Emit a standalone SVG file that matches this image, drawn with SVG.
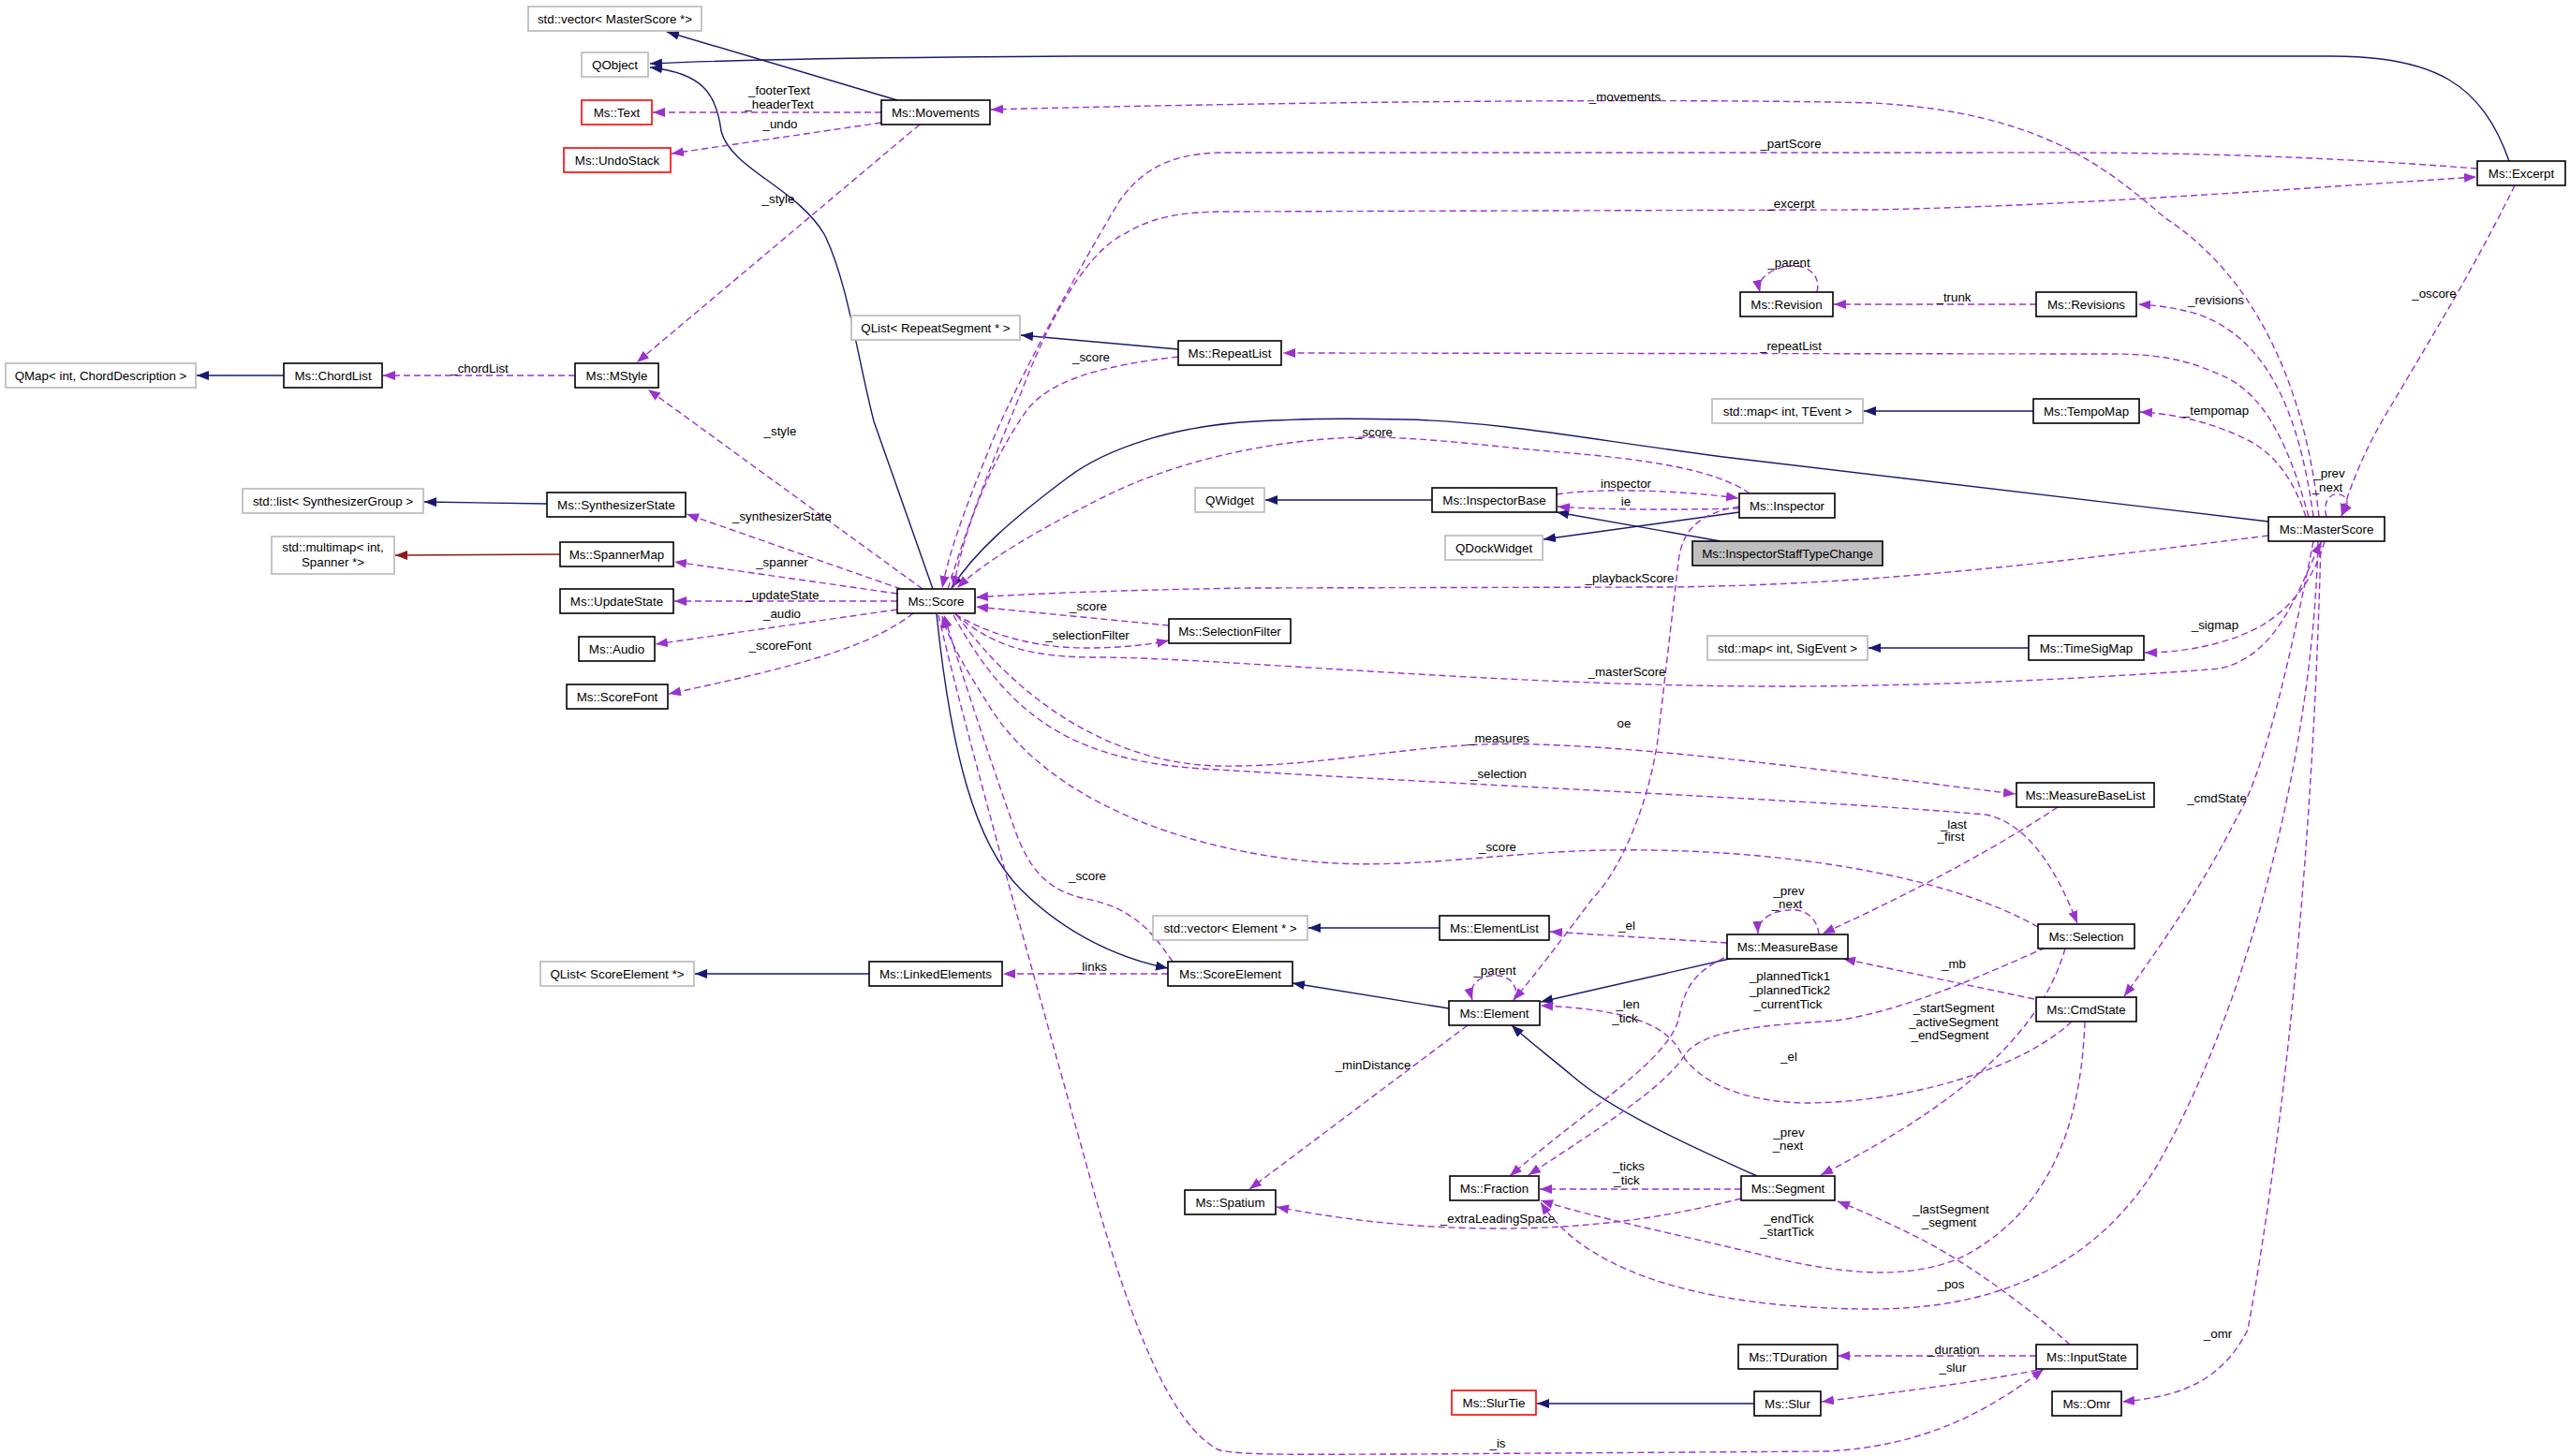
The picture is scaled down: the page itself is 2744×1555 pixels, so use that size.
<svg xmlns="http://www.w3.org/2000/svg" width="2744" height="1555" viewBox="0 0 2744 1555">
<style>
text{font-family:"Liberation Sans",Arial,Helvetica,sans-serif;font-size:13.33px;fill:#000}
.node text{text-anchor:middle}
.node rect{fill:#fff;stroke:#000;stroke-width:1.6}
.g rect{stroke:#bfbfbf;stroke-width:1.8}
.r rect{stroke:#ff0000;stroke-width:1.6}
.hl rect{fill:#bfbfbf}
.inh{fill:none;stroke:#191970;stroke-width:1.4;marker-end:url(#ab)}
.tpl{fill:none;stroke:#8b1a1a;stroke-width:1.4;marker-end:url(#ar)}
.use{fill:none;stroke:#9a32cd;stroke-width:1.4;stroke-dasharray:7,4;marker-end:url(#ap)}
.lbl text{text-anchor:middle}
</style>
<defs>
<marker id="ab" markerUnits="userSpaceOnUse" markerWidth="14" markerHeight="12" refX="13" refY="5" orient="auto"><path d="M0,0 L13,5 L0,10 z" fill="#191970"/></marker>
<marker id="ar" markerUnits="userSpaceOnUse" markerWidth="14" markerHeight="12" refX="13" refY="5" orient="auto"><path d="M0,0 L13,5 L0,10 z" fill="#8b1a1a"/></marker>
<marker id="ap" markerUnits="userSpaceOnUse" markerWidth="14" markerHeight="12" refX="13" refY="5" orient="auto"><path d="M0,0 L13,5 L0,10 z" fill="#9a32cd"/></marker>
</defs>
<rect width="2744" height="1555" fill="#fff"/>

<g id="edges">
<!-- inheritance -->
<path class="inh" d="M958,107 L712,34"/>
<path class="inh" d="M2679,172 C2650,90 2600,60 2490,60 L1150,60 C950,61 800,63 694,68"/>
<path class="inh" d="M996,629 L933,450 C915,380 905,300 880,250 C850,200 780,180 770,140 C765,100 750,78 694,72"/>
<path class="inh" d="M2422,557 L1840,488 C1700,470 1600,450 1500,448 C1420,446 1380,448 1340,450 C1250,455 1180,480 1140,510 C1080,555 1040,590 1016,628"/>
<path class="inh" d="M1000,656 C1015,800 1040,900 1090,950 C1140,1000 1200,1025 1247,1034"/>
<path class="inh" d="M1547,1077 L1380,1050"/>
<path class="inh" d="M1851,1023 L1645,1070"/>
<path class="inh" d="M1876,1256 C1800,1222 1720,1185 1680,1150 C1650,1125 1630,1110 1614,1095"/>
<path class="inh" d="M1537,991 L1397,991"/>
<path class="inh" d="M928,1040 L742,1040"/>
<path class="inh" d="M1258,373 L1090,358"/>
<path class="inh" d="M303,401 L210,401"/>
<path class="inh" d="M584,538 L453,536"/>
<path class="tpl" d="M598,592 L422,593"/>
<path class="inh" d="M2171,439 L1990,439"/>
<path class="inh" d="M2166,692 L1995,692"/>
<path class="inh" d="M1529,534 L1351,534"/>
<path class="inh" d="M1857,547 L1648,576"/>
<path class="inh" d="M1837,578 L1662,547"/>
<path class="inh" d="M1873,1499 L1641,1499"/>

<!-- usage -->
<path class="use" d="M941,120 L697,120"/>
<path class="use" d="M941,131 L717,164"/>
<path class="use" d="M982,133 L680,387"/>
<path class="use" d="M2476,552 C2460,400 2400,290 2312,233 C2250,180 2180,120 2000,110 C1800,105 1400,108 1058,117"/>
<path class="use" d="M2645,180 C2450,165 2300,162 2100,163 L1300,163 C1250,165 1220,180 1195,215 C1150,290 1090,400 1060,470 C1040,520 1015,580 1006,628"/>
<path class="use" d="M1012,629 C1040,540 1065,480 1090,420 C1120,340 1160,270 1200,250 C1230,232 1260,226 1310,226 L2000,224 C2200,220 2400,205 2644,189"/>
<path class="use" d="M2685,198 C2640,290 2590,370 2555,430 C2530,470 2512,510 2500,551"/>
<path class="use" d="M2470,552 C2455,440 2420,360 2345,335 C2320,328 2300,326 2283,325"/>
<path class="use" d="M2174,325 L1958,325"/>
<path class="use" d="M1940,312 C1945,290 1925,282 1910,284 C1895,286 1875,295 1879,312"/>
<path class="use" d="M2465,552 C2445,480 2420,420 2370,400 C2330,382 2300,378 2250,378 L1370,377"/>
<path class="use" d="M1258,381 C1180,390 1120,405 1095,440 C1060,490 1030,560 1018,628"/>
<path class="use" d="M2462,552 C2450,515 2430,485 2400,470 C2360,450 2320,442 2285,440"/>
<path class="use" d="M2484,552 C2478,530 2495,522 2505,532 C2508,538 2504,544 2500,551"/>
<path class="use" d="M614,401 L409,401"/>
<path class="use" d="M985,629 L692,416"/>
<path class="use" d="M962,629 L733,549"/>
<path class="use" d="M958,634 L720,600"/>
<path class="use" d="M958,642 L720,642"/>
<path class="use" d="M958,651 L700,688"/>
<path class="use" d="M975,655 C930,690 860,710 714,741"/>
<path class="use" d="M2422,572 C2200,600 2000,625 1778,627 L1334,628 C1200,630 1100,634 1042,638"/>
<path class="use" d="M1248,668 L1042,648"/>
<path class="use" d="M1020,656 C1060,680 1110,692 1160,692 C1200,692 1230,688 1248,684"/>
<path class="use" d="M2482,578 C2470,620 2445,650 2415,668 C2380,688 2330,697 2290,697"/>
<path class="use" d="M1020,656 C1060,690 1100,702 1170,702 C1300,702 1600,733 1900,733 C2100,733 2300,720 2370,714 C2430,700 2450,640 2478,579"/>
<path class="use" d="M1022,657 C1080,740 1180,815 1300,818 C1420,820 1520,790 1640,795 C1800,800 2000,830 2152,848"/>
<path class="use" d="M1018,657 C1080,770 1150,815 1300,822 C1600,840 1950,855 2120,870 C2170,880 2200,940 2218,986"/>
<path class="use" d="M2176,990 C2080,935 1900,905 1714,908 C1600,910 1500,930 1400,920 C1250,905 1120,850 1060,760 C1035,720 1015,690 1006,658"/>
<path class="use" d="M1252,1027 C1230,995 1210,970 1160,960 C1120,952 1100,930 1085,890 C1060,820 1030,730 1008,657"/>
<path class="use" d="M1247,1040 L1071,1040"/>
<path class="use" d="M1002,657 C1030,780 1120,1100 1170,1280 C1210,1420 1250,1520 1300,1548 C1320,1555 1400,1553 1500,1553 L1950,1550 C2050,1545 2120,1510 2182,1462"/>
<path class="use" d="M1844,1007 L1655,995"/>
<path class="use" d="M1942,998 C1940,975 1920,970 1909,972 C1895,973 1876,980 1877,997"/>
<path class="use" d="M2197,862 C2140,900 2050,950 1946,997"/>
<path class="use" d="M2172,1067 L1968,1024"/>
<path class="use" d="M1857,541 C1815,548 1796,565 1792,600 L1770,790 C1760,860 1730,930 1700,960 C1670,1000 1640,1040 1616,1068"/>
<path class="use" d="M1567,1095 L1334,1270"/>
<path class="use" d="M1616,1069 C1625,1048 1605,1040 1592,1042 C1575,1044 1568,1055 1572,1068"/>
<path class="use" d="M2184,1012 C2110,1045 2030,1080 1960,1090 C1880,1095 1820,1100 1800,1125 C1780,1160 1700,1210 1632,1255"/>
<path class="use" d="M1841,1023 C1805,1040 1798,1060 1793,1085 C1785,1130 1700,1180 1612,1256"/>
<path class="use" d="M2212,1091 C2160,1140 2040,1178 1926,1178 C1850,1176 1810,1150 1795,1125 C1780,1095 1740,1078 1645,1074"/>
<path class="use" d="M2205,1013 C2180,1100 2100,1175 1944,1255"/>
<path class="use" d="M2226,1091 C2222,1200 2190,1290 2100,1340 C2040,1370 1960,1360 1880,1340 C1790,1318 1700,1300 1645,1282"/>
<path class="use" d="M2475,578 C2470,800 2400,1080 2300,1250 C2230,1360 2120,1398 2000,1398 C1850,1398 1700,1370 1645,1284"/>
<path class="use" d="M2478,578 C2470,900 2440,1200 2400,1420 C2370,1480 2320,1492 2266,1497"/>
<path class="use" d="M2470,578 C2450,680 2420,820 2390,870 C2350,950 2300,1020 2268,1064"/>
<path class="use" d="M1859,1270 L1644,1270"/>
<path class="use" d="M1859,1280 C1780,1300 1700,1312 1600,1312 C1500,1312 1420,1300 1363,1289"/>
<path class="use" d="M2210,1436 C2170,1400 2110,1355 2058,1327 C2025,1310 1995,1296 1962,1283"/>
<path class="use" d="M2174,1448 L1962,1448"/>
<path class="use" d="M2186,1461 C2120,1475 2040,1485 1945,1497"/>
<path class="use" d="M1868,527 C1830,500 1750,490 1667,483 C1600,478 1520,466 1450,467 C1350,470 1250,495 1180,530 C1110,565 1050,600 1022,628"/>
<path class="use" d="M1662,528 C1700,522 1780,522 1856,532"/>
<path class="use" d="M1857,543 C1780,545 1700,544 1663,541"/>

<g class="lbl">
<text x="832" y="101">_footerText</text><text x="832" y="116">_headerText</text>
<text x="833" y="137">_undo</text>
<text x="831" y="217">_style</text>
<text x="1735" y="108">_movements</text>
<text x="1912" y="158">_partScore</text>
<text x="1912" y="222">_excerpt</text>
<text x="2599" y="318">_oscore</text>
<text x="1910" y="285">_parent</text>
<text x="2086" y="322">_trunk</text>
<text x="2366" y="325">_revisions</text>
<text x="1912" y="374">_repeatList</text>
<text x="1165" y="386">_score</text>
<text x="2366" y="443">_tempomap</text>
<text x="512" y="398">_chordList</text>
<text x="833" y="465">_style</text>
<text x="1467" y="466">_score</text>
<text x="1736" y="521">inspector</text>
<text x="1736" y="540">ie</text>
<text x="2487" y="510">_prev</text><text x="2485" y="525">_next</text>
<text x="835" y="556">_synthesizerState</text>
<text x="835" y="605">_spanner</text>
<text x="835" y="640">_updateState</text>
<text x="835" y="660">_audio</text>
<text x="833" y="694">_scoreFont</text>
<text x="1740" y="622">_playbackScore</text>
<text x="1162" y="652">_score</text>
<text x="1161" y="683">_selectionFilter</text>
<text x="2365" y="672">_sigmap</text>
<text x="1737" y="722">_masterScore</text>
<text x="1734" y="777">oe</text>
<text x="1600" y="793">_measures</text>
<text x="1600" y="831">_selection</text>
<text x="2367" y="857">_cmdState</text>
<text x="2086" y="885">_last</text><text x="2083" y="898">_first</text>
<text x="1599" y="909">_score</text>
<text x="1910" y="956">_prev</text><text x="1908" y="970">_next</text>
<text x="1737" y="993">_el</text>
<text x="1161" y="940">_score</text>
<text x="1165" y="1037">_links</text>
<text x="1596" y="1041">_parent</text>
<text x="2086" y="1034">_mb</text>
<text x="1911" y="1047">_plannedTick1</text><text x="1911" y="1062">_plannedTick2</text><text x="1909" y="1077">_currentTick</text>
<text x="1738" y="1077">_len</text><text x="1735" y="1092">_tick</text>
<text x="2086" y="1081">_startSegment</text><text x="2086" y="1096">_activeSegment</text><text x="2082" y="1110">_endSegment</text>
<text x="1910" y="1133">_el</text>
<text x="1466" y="1142">_minDistance</text>
<text x="1910" y="1214">_prev</text><text x="1909" y="1228">_next</text>
<text x="1739" y="1250">_ticks</text><text x="1737" y="1265">_tick</text>
<text x="1599" y="1306">_extraLeadingSpace</text>
<text x="1910" y="1306">_endTick</text><text x="1908" y="1320">_startTick</text>
<text x="2083" y="1296">_lastSegment</text><text x="2081" y="1310">_segment</text>
<text x="2083" y="1376">_pos</text>
<text x="2368" y="1429">_omr</text>
<text x="2086" y="1446">_duration</text>
<text x="2085" y="1465">_slur</text>
<text x="1599" y="1546">_is</text>
</g>
</g>

<g id="n-vecMS" class="node g"><rect x="564" y="7" width="185" height="26"/><text x="656.5" y="24.8">std::vector&lt; MasterScore *&gt;</text></g>
<g id="n-QObject" class="node g"><rect x="621" y="56" width="71" height="26"/><text x="656.5" y="73.8">QObject</text></g>
<g id="n-Text" class="node r"><rect x="621" y="107" width="75" height="26"/><text x="658.5" y="124.8">Ms::Text</text></g>
<g id="n-UndoStack" class="node r"><rect x="602" y="158" width="114" height="26"/><text x="659" y="175.8">Ms::UndoStack</text></g>
<g id="n-Movements" class="node"><rect x="941" y="107" width="116" height="26"/><text x="999" y="124.8">Ms::Movements</text></g>
<g id="n-MStyle" class="node"><rect x="614" y="388" width="89" height="26"/><text x="658.5" y="405.8">Ms::MStyle</text></g>
<g id="n-ChordList" class="node"><rect x="303" y="388" width="105" height="26"/><text x="355.5" y="405.8">Ms::ChordList</text></g>
<g id="n-QMap" class="node g"><rect x="6" y="388" width="203" height="26"/><text x="107.5" y="405.8">QMap&lt; int, ChordDescription &gt;</text></g>
<g id="n-QListRS" class="node g"><rect x="909" y="337" width="180" height="26"/><text x="999" y="354.8">QList&lt; RepeatSegment * &gt;</text></g>
<g id="n-Excerpt" class="node"><rect x="2645" y="172" width="94" height="26"/><text x="2692" y="189.8">Ms::Excerpt</text></g>
<g id="n-Revision" class="node"><rect x="1858" y="312" width="99" height="26"/><text x="1907.5" y="329.8">Ms::Revision</text></g>
<g id="n-Revisions" class="node"><rect x="2174" y="312" width="107" height="26"/><text x="2227.5" y="329.8">Ms::Revisions</text></g>
<g id="n-RepeatList" class="node"><rect x="1258" y="364" width="110" height="26"/><text x="1313" y="381.8">Ms::RepeatList</text></g>
<g id="n-mapTEvent" class="node g"><rect x="1828" y="426" width="161" height="26"/><text x="1908.5" y="443.8">std::map&lt; int, TEvent &gt;</text></g>
<g id="n-TempoMap" class="node"><rect x="2171" y="426" width="113" height="26"/><text x="2227.5" y="443.8">Ms::TempoMap</text></g>
<g id="n-QWidget" class="node g"><rect x="1276" y="521" width="74" height="26"/><text x="1313" y="538.8">QWidget</text></g>
<g id="n-InspectorBase" class="node"><rect x="1529" y="521" width="133" height="26"/><text x="1595.5" y="538.8">Ms::InspectorBase</text></g>
<g id="n-Inspector" class="node"><rect x="1857" y="527" width="102" height="26"/><text x="1908" y="544.8">Ms::Inspector</text></g>
<g id="n-QDockWidget" class="node g"><rect x="1543" y="572" width="104" height="26"/><text x="1595" y="589.8">QDockWidget</text></g>
<g id="n-InspectorStaffTypeChange" class="node hl"><rect x="1807" y="578" width="203" height="26"/><text x="1908.5" y="595.8">Ms::InspectorStaffTypeChange</text></g>
<g id="n-MasterScore" class="node"><rect x="2422" y="552" width="124" height="26"/><text x="2484" y="569.8">Ms::MasterScore</text></g>
<g id="n-Score" class="node"><rect x="958" y="629" width="83" height="26"/><text x="999.5" y="646.8">Ms::Score</text></g>
<g id="n-SynthesizerState" class="node"><rect x="584" y="526" width="148" height="26"/><text x="658" y="543.8">Ms::SynthesizerState</text></g>
<g id="n-listSG" class="node g"><rect x="259" y="522" width="193" height="26"/><text x="355.5" y="539.8">std::list&lt; SynthesizerGroup &gt;</text></g>
<g id="n-SpannerMap" class="node"><rect x="598" y="579" width="121" height="26"/><text x="658.5" y="596.8">Ms::SpannerMap</text></g>
<g id="n-multimap" class="node g"><rect x="290" y="573" width="131" height="40"/><text x="355.5" y="588.8">std::multimap&lt; int,</text><text x="355.5" y="604.8">Spanner *&gt;</text></g>
<g id="n-UpdateState" class="node"><rect x="598" y="629" width="121" height="26"/><text x="658.5" y="646.8">Ms::UpdateState</text></g>
<g id="n-Audio" class="node"><rect x="618" y="680" width="81" height="26"/><text x="658.5" y="697.8">Ms::Audio</text></g>
<g id="n-ScoreFont" class="node"><rect x="605" y="731" width="108" height="26"/><text x="659" y="748.8">Ms::ScoreFont</text></g>
<g id="n-SelectionFilter" class="node"><rect x="1248" y="661" width="130" height="26"/><text x="1313" y="678.8">Ms::SelectionFilter</text></g>
<g id="n-mapSigEvent" class="node g"><rect x="1823" y="679" width="171" height="26"/><text x="1908.5" y="696.8">std::map&lt; int, SigEvent &gt;</text></g>
<g id="n-TimeSigMap" class="node"><rect x="2166" y="679" width="123" height="26"/><text x="2227.5" y="696.8">Ms::TimeSigMap</text></g>
<g id="n-MeasureBaseList" class="node"><rect x="2153" y="836" width="147" height="26"/><text x="2226.5" y="853.8">Ms::MeasureBaseList</text></g>
<g id="n-ElementList" class="node"><rect x="1537" y="978" width="117" height="26"/><text x="1595.5" y="995.8">Ms::ElementList</text></g>
<g id="n-vecElem" class="node g"><rect x="1231" y="978" width="165" height="26"/><text x="1313.5" y="995.8">std::vector&lt; Element * &gt;</text></g>
<g id="n-MeasureBase" class="node"><rect x="1844" y="998" width="129" height="26"/><text x="1908.5" y="1015.8">Ms::MeasureBase</text></g>
<g id="n-Selection" class="node"><rect x="2176" y="987" width="103" height="26"/><text x="2227.5" y="1004.8">Ms::Selection</text></g>
<g id="n-Element" class="node"><rect x="1547" y="1069" width="97" height="26"/><text x="1595.5" y="1086.8">Ms::Element</text></g>
<g id="n-ScoreElement" class="node"><rect x="1247" y="1027" width="133" height="26"/><text x="1313.5" y="1044.8">Ms::ScoreElement</text></g>
<g id="n-LinkedElements" class="node"><rect x="928" y="1027" width="142" height="26"/><text x="999" y="1044.8">Ms::LinkedElements</text></g>
<g id="n-QListSE" class="node g"><rect x="577" y="1027" width="164" height="26"/><text x="659" y="1044.8">QList&lt; ScoreElement *&gt;</text></g>
<g id="n-CmdState" class="node"><rect x="2174" y="1065" width="107" height="26"/><text x="2227.5" y="1082.8">Ms::CmdState</text></g>
<g id="n-Spatium" class="node"><rect x="1265" y="1271" width="97" height="26"/><text x="1313.5" y="1288.8">Ms::Spatium</text></g>
<g id="n-Fraction" class="node"><rect x="1548" y="1256" width="95" height="26"/><text x="1595.5" y="1273.8">Ms::Fraction</text></g>
<g id="n-Segment" class="node"><rect x="1859" y="1256" width="100" height="26"/><text x="1909" y="1273.8">Ms::Segment</text></g>
<g id="n-TDuration" class="node"><rect x="1856" y="1436" width="106" height="26"/><text x="1909" y="1453.8">Ms::TDuration</text></g>
<g id="n-InputState" class="node"><rect x="2174" y="1436" width="108" height="26"/><text x="2228" y="1453.8">Ms::InputState</text></g>
<g id="n-SlurTie" class="node r"><rect x="1550" y="1485" width="90" height="26"/><text x="1595" y="1502.8">Ms::SlurTie</text></g>
<g id="n-Slur" class="node"><rect x="1873" y="1486" width="71" height="26"/><text x="1908.5" y="1503.8">Ms::Slur</text></g>
<g id="n-Omr" class="node"><rect x="2191" y="1486" width="74" height="26"/><text x="2228" y="1503.8">Ms::Omr</text></g>
</svg>
